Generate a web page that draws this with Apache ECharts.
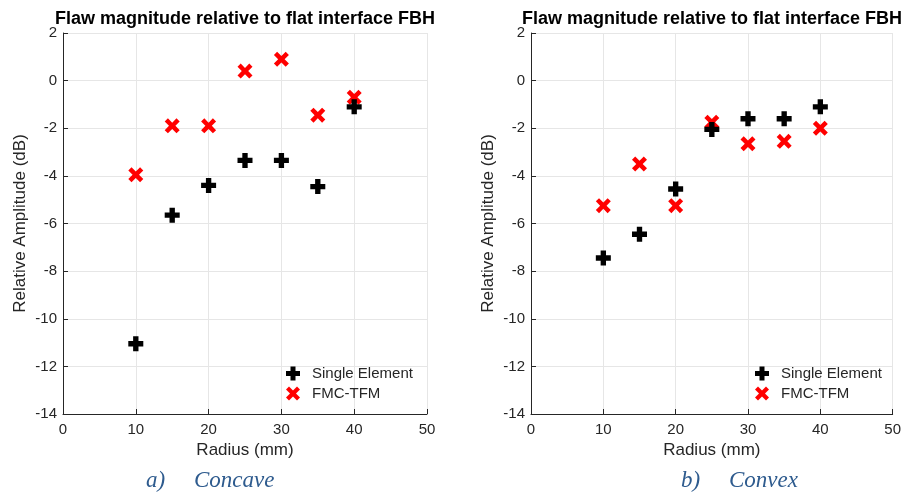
<!DOCTYPE html>
<html>
<head>
<meta charset="utf-8">
<script src="https://cdn.jsdelivr.net/npm/echarts@6/dist/echarts.min.js"></script>
<style>
  html, body { margin: 0; padding: 0; background: #fff; }
  #main { width: 904px; height: 492px; }
</style>
</head>
<body>
<div id="main"></div>
<script>
// radius of the flaw (mm)
var radius = [10, 15, 20, 25, 30, 35, 40];

// concave surface
var concaveSingle = [-11.05, -5.65, -4.4, -3.35, -3.35, -4.45, -1.1];
var concaveFmc = [-3.95, -1.9, -1.9, 0.4, 0.9, -1.45, -0.7];

// convex surface
var convexSingle = [-7.45, -6.45, -4.55, -2.05, -1.6, -1.6, -1.1];
var convexFmc = [-5.25, -3.5, -5.25, -1.75, -2.65, -2.55, -2.0];

var PLUS = 'path://M4.5,0H9.5V4.5H14V9.5H9.5V14H4.5V9.5H0V4.5H4.5Z';
var CROSS = 'path://M0,3L3,0L7,4L11,0L14,3L10,7L14,11L11,14L7,10L3,14L0,11L4,7Z';
var FONT = 'Liberation Sans, Arial, sans-serif';
var TXT = '#262626';

function pairs(xs, ys) {
  return xs.map(function (x, i) { return [x, ys[i]]; });
}

function xAxis(idx) {
  return {
    type: 'value', gridIndex: idx, min: 0, max: 50, interval: 10,
    name: 'Radius (mm)', nameLocation: 'middle', nameGap: 28,
    nameTextStyle: { color: TXT, fontSize: 17, fontFamily: FONT },
    axisLine: { show: true, onZero: false, lineStyle: { color: TXT, width: 1 } },
    axisTick: { show: true, inside: true, length: 5, lineStyle: { color: TXT } },
    axisLabel: { color: TXT, fontSize: 15, fontFamily: FONT, margin: 8 },
    splitLine: { show: true, lineStyle: { color: '#e6e6e6', width: 1 } }
  };
}

function yAxis(idx) {
  return {
    type: 'value', gridIndex: idx, min: -14, max: 2, interval: 2,
    name: 'Relative Amplitude (dB)', nameLocation: 'middle', nameGap: 34,
    nameTextStyle: { color: TXT, fontSize: 17, fontFamily: FONT },
    axisLine: { show: true, onZero: false, lineStyle: { color: TXT, width: 1 } },
    axisTick: { show: true, inside: true, length: 5, lineStyle: { color: TXT } },
    axisLabel: { color: TXT, fontSize: 15, fontFamily: FONT, margin: 6 },
    splitLine: { show: true, lineStyle: { color: '#e6e6e6', width: 1 } }
  };
}

function scatter(name, idx, data, symbol, color) {
  return {
    name: name, type: 'scatter', xAxisIndex: idx, yAxisIndex: idx,
    data: data, symbol: symbol, symbolSize: 15,
    itemStyle: { color: color, opacity: 1 },
    emphasis: { disabled: true },
    z: color === '#ff0000' ? 2 : 3
  };
}

function legend(left) {
  return {
    orient: 'vertical', left: left, top: 366, padding: 0,
    itemWidth: 14, itemHeight: 14, itemGap: 5,
    textStyle: { color: TXT, fontSize: 15, fontFamily: FONT, padding: [0, 0, 0, 7] },
    data: [
      { name: 'Single Element', icon: PLUS },
      { name: 'FMC-TFM', icon: CROSS }
    ]
  };
}

var titleStyle = { fontSize: 18, fontWeight: 'bold', color: '#000', fontFamily: FONT };
var captionStyle = { fontSize: 23, fontStyle: 'italic', fontWeight: 'normal', color: '#2e5b8e', fontFamily: 'Liberation Serif, serif' };

var chart = echarts.init(document.getElementById('main'));
chart.setOption({
  backgroundColor: '#fff',
  animation: false,
  title: [
    { text: 'Flaw magnitude relative to flat interface FBH', left: 240, top: 5, textAlign: 'center', textStyle: titleStyle },
    { text: 'Flaw magnitude relative to flat interface FBH', left: 707, top: 5, textAlign: 'center', textStyle: titleStyle },
    { text: 'a)     Concave', left: 141, top: 464, textStyle: captionStyle },
    { text: 'b)     Convex', left: 676, top: 464, textStyle: captionStyle }
  ],
  grid: [
    { left: 63, top: 33, width: 364, height: 381 },
    { left: 531, top: 33, width: 365, height: 381 }
  ],
  xAxis: [xAxis(0), xAxis(1)],
  yAxis: [yAxis(0), yAxis(1)],
  legend: [legend(286), legend(755)],
  series: [
    scatter('Single Element', 0, pairs(radius, concaveSingle), PLUS, '#000000'),
    scatter('FMC-TFM', 0, pairs(radius, concaveFmc), CROSS, '#ff0000'),
    scatter('Single Element', 1, pairs(radius, convexSingle), PLUS, '#000000'),
    scatter('FMC-TFM', 1, pairs(radius, convexFmc), CROSS, '#ff0000')
  ]
});
</script>
</body>
</html>
